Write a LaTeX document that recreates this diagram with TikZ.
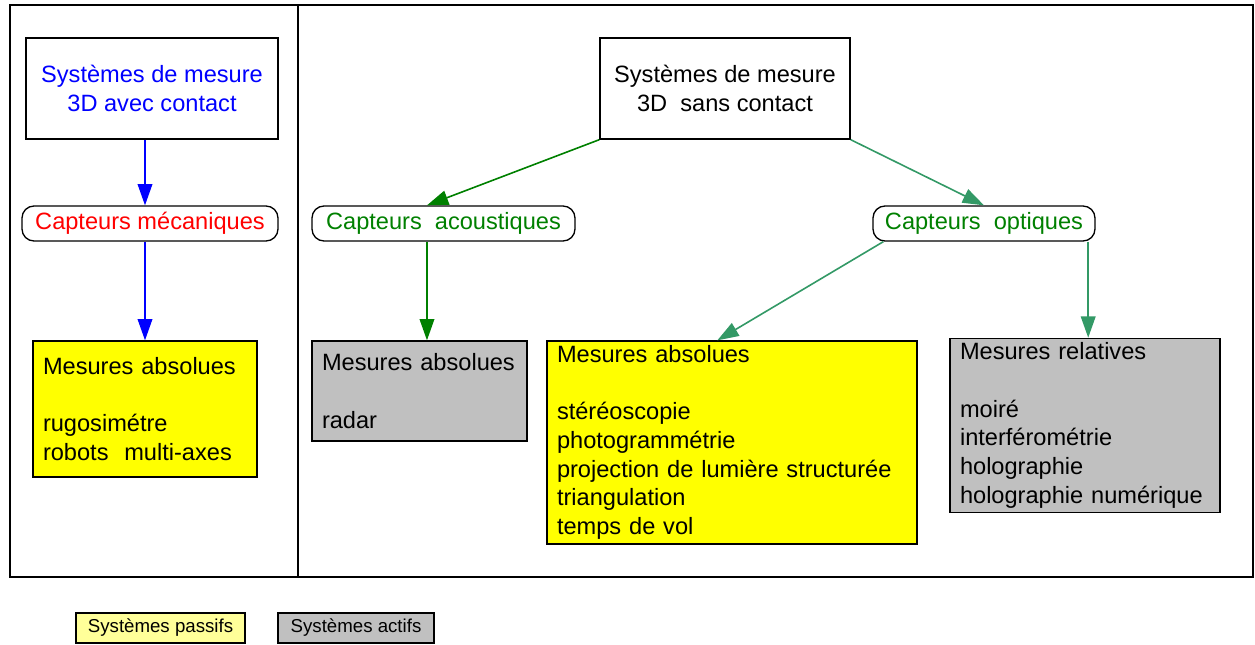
\documentclass[tikz,border=0pt]{standalone}
\usepackage{fontspec}
\setmainfont{Liberation Sans}
\usepackage{tikz}
\usetikzlibrary{arrows.meta}

\definecolor{vert}{RGB}{0,128,0}
\definecolor{vertmer}{RGB}{51,153,102}
\definecolor{jaune}{RGB}{255,255,0}
\definecolor{jauneclair}{RGB}{255,255,153}
\definecolor{gris}{RGB}{192,192,192}

\tikzset{
  titre/.style={draw, line width=1pt, minimum width=189pt, minimum height=75.75pt, align=center, font=\fontsize{17.7}{21.5}\selectfont},
  capteur/.style={draw, line width=1pt, rounded corners=9pt, minimum height=26.25pt, inner sep=0pt, font=\fontsize{17.7}{21.5}\selectfont},
  mesure/.style={draw, line width=1pt, align=left, inner xsep=7.5pt, font=\fontsize{17.7}{21.5}\selectfont},
  legende/.style={draw, line width=1pt, minimum height=22.5pt, inner sep=0pt, font=\fontsize{14}{16}\selectfont},
  fleche/.style={line width=1.2pt, -{Triangle[length=16pt,width=11pt]}}
}

\begin{document}
\begin{tikzpicture}[x=0.75pt, y=-0.75pt]
         \useasboundingbox (0,0) rectangle (1255,644);
         % cadre
         \draw[line width=1.5pt] (10,5) rectangle (1253,577);
         \draw[line width=1.5pt] (298,5) -- (298,577);
         % avec contact
         \node[titre, text=blue] (contact) at (152,88.5) {Systèmes de mesure\\ 3D avec contact};
         \node[capteur, text=red, minimum width=192pt] (meca) at (150,223.5) {Capteurs mécaniques};
         \node[mesure, fill=jaune, text width=153pt, minimum height=102pt] (absA) at (145,409) {Mesures absolues\\ \mbox{}\\ rugosimétre\\ robots\ \ multi-axes};
         % sans contact
         \node[titre, minimum width=187.5pt] (sans) at (725,88.5) {Systèmes de mesure\\ 3D\ \ sans contact};
         \node[capteur, text=vert, minimum width=197.25pt] (acou) at (443.5,223.5) {Capteurs\ \ acoustiques};
         \node[capteur, text=vert, minimum width=166.5pt] (opti) at (984,223.5) {Capteurs\ \ optiques};
         \node[mesure, fill=gris, text width=146.25pt, minimum height=75pt] (radar) at (419.5,391) {Mesures absolues\\ \mbox{}\\ radar};
         \node[mesure, fill=jaune, text width=262.5pt, minimum height=152.25pt] (absO) at (732,442.5) {Mesures absolues\\ \mbox{}\\ stéréoscopie\\ photogrammétrie\\ projection de lumière structurée\\ triangulation\\ temps de vol};
         \node[mesure, fill=gris, text width=187.5pt, minimum height=126.75pt] (rel) at (1085,425.5) {Mesures relatives\\ \mbox{}\\ moiré\\ interférométrie\\ holographie\\ holographie numérique};
         % legende
         \node[legende, fill=jauneclair, minimum width=126.75pt] (passif) at (160.5,628) {Systèmes passifs};
         \node[legende, fill=gris, minimum width=117pt] (actif) at (356,628) {Systèmes actifs};
         % fleches
         \draw[fleche, blue] (contact.south -| absA.north) -- (meca.north -| absA.north);
         \draw[fleche, blue] (meca.south -| absA.north) -- (absA.north);
         \coordinate (acN) at ([xshift=-12.4pt]acou.north);
         \coordinate (acS) at ([xshift=-12.4pt]acou.south);
         \coordinate (opG) at ([xshift=8.25pt]opti.south west);
         \coordinate (opD) at ([xshift=-5.6pt]opti.south east);
         \draw[fleche, vert] (sans.south west) -- (acN);
         \draw[fleche, vert] (acS) -- (acS |- radar.north);
         \draw[fleche, vertmer] (sans.south east) -- (opti.north);
         \draw[fleche, vertmer] (opG) -- ([xshift=-11pt]absO.north);
         \draw[fleche, vertmer] (opD) -- (opD |- rel.north);
    \end{tikzpicture}
\end{document}
